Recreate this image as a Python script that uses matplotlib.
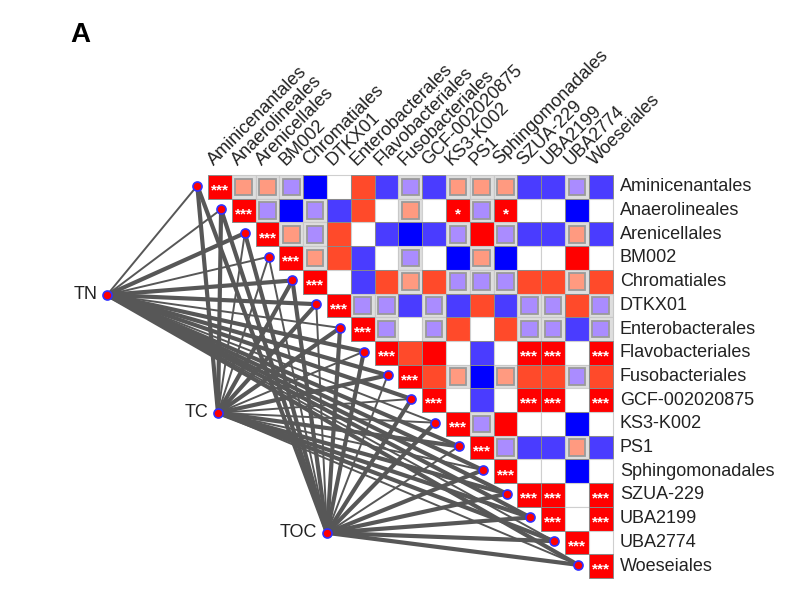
import matplotlib
matplotlib.use("Agg")
import matplotlib.pyplot as plt
from matplotlib.patches import Rectangle
from matplotlib.colors import ListedColormap, BoundaryNorm

plt.rcParams['font.family'] = ['Liberation Sans', 'DejaVu Sans']

taxa = ["Aminicenantales", "Anaerolineales", "Arenicellales", "BM002", "Chromatiales",
        "DTKX01", "Enterobacterales", "Flavobacteriales", "Fusobacteriales",
        "GCF-002020875", "KS3-K002", "PS1", "Sphingomonadales", "SZUA-229",
        "UBA2199", "UBA2774", "Woeseiales"]

# Upper-triangle correlation rows (each row starts at the diagonal)
corr_rows = [
    [1.0, 0.30, 0.30, -0.30, -0.85, 0.00, 0.55, -0.55, -0.30, -0.55, 0.30, 0.30, 0.30, -0.55, -0.55, -0.30, -0.55],
    [1.0, -0.30, -0.85, -0.30, -0.55, 0.55, 0.00, 0.30, 0.00, 0.80, -0.30, 0.80, 0.00, 0.00, -0.85, 0.00],
    [1.0, 0.30, -0.30, 0.55, 0.00, -0.55, -0.85, -0.55, -0.30, 0.80, -0.30, -0.55, -0.55, 0.30, -0.55],
    [1.0, 0.30, 0.55, -0.55, 0.00, -0.30, 0.00, -0.85, 0.30, -0.85, 0.00, 0.00, 0.80, 0.00],
    [1.0, 0.00, -0.55, 0.55, 0.30, 0.55, -0.30, -0.30, -0.30, 0.55, 0.55, 0.30, 0.55],
    [1.0, -0.30, -0.30, -0.55, -0.30, -0.55, 0.55, -0.55, -0.30, -0.30, 0.55, -0.30],
    [1.0, -0.30, 0.00, -0.30, 0.55, 0.00, 0.55, -0.30, -0.30, -0.55, -0.30],
    [1.0, 0.55, 0.80, 0.00, -0.55, 0.00, 0.92, 0.92, 0.00, 0.92],
    [1.0, 0.55, 0.30, -0.85, 0.30, 0.55, 0.55, -0.30, 0.55],
    [1.0, 0.00, -0.55, 0.00, 0.92, 0.92, 0.00, 0.92],
    [1.0, -0.30, 0.80, 0.00, 0.00, -0.85, 0.00],
    [1.0, -0.30, -0.55, -0.55, 0.30, -0.55],
    [1.0, 0.00, 0.00, -0.85, 0.00],
    [1.0, 0.92, 0.00, 0.92],
    [1.0, 0.00, 0.92],
    [1.0, 0.00],
    [1.0],
]

# Significance marks off the diagonal: (row, col, stars)
signif = [(1, 10, "*"), (1, 12, "*"),
          (7, 13, "***"), (7, 14, "***"), (7, 16, "***"),
          (9, 13, "***"), (9, 14, "***"), (9, 16, "***"),
          (13, 14, "***"), (13, 16, "***"), (14, 16, "***")]

env_factors = ["TN", "TC", "TOC"]
# Mantel r of each environmental factor vs. each taxon (line width)
mantel_TN = [0.15, 0.15, 0.45, 0.15, 0.45, 0.45, 0.15, 0.45, 0.45, 0.45, 0.15, 0.45, 0.45, 0.45, 0.45, 0.15, 0.45]
mantel_TC = [0.45, 0.45, 0.15, 0.15, 0.45, 0.45, 0.45, 0.15, 0.45, 0.15, 0.15, 0.45, 0.15, 0.45, 0.45, 0.45, 0.15]
mantel_TOC = [0.45, 0.45, 0.45, 0.15, 0.45, 0.15, 0.45, 0.45, 0.15, 0.45, 0.45, 0.15, 0.45, 0.45, 0.45, 0.45, 0.45]
mantel = [mantel_TN, mantel_TC, mantel_TOC]

# ---- layout (cell units) ----
env_pos = [(-4.24, 5.06), (0.42, 10.04), (5.0, 15.1)]
bounds = [-1.0, -0.7, -0.42, -0.12, 0.12, 0.42, 0.7, 1.01]
colors = ['#0000ff', '#4a3cff', '#aa8cff', '#ffffff', '#ff9a80', '#ff4a2a', '#ff0000']
cmap = ListedColormap(colors)
norm = BoundaryNorm(bounds, cmap.N)

fig = plt.figure(figsize=(7.88, 6.02), dpi=100)
ax = fig.add_axes([0, 0, 1, 1])
ax.set_xlim(-208 / 23.8, (788 - 208) / 23.8)
ax.set_ylim((602 - 175) / 23.7, -175 / 23.7)
ax.axis('off')

n = len(taxa)

# Mantel lines
for k, name in enumerate(env_factors):
    ex, ey = env_pos[k]
    for i in range(n):
        r = mantel[k][i]
        lw = 3.0 if r >= 0.3 else 1.4
        ax.plot([ex, i - 0.45], [ey, i + 0.45], color='#575757', lw=lw,
                solid_capstyle='round', zorder=1)

# Heatmap cells
for i in range(n):
    for k, r in enumerate(corr_rows[i]):
        j = i + k
        col = cmap(norm(r))
        if 0.12 <= abs(r) < 0.42:
            ax.add_patch(Rectangle((j, i), 1, 1, facecolor='#dedede', edgecolor='#c8c8c8', lw=0.8, zorder=2))
            s = 0.7
            ax.add_patch(Rectangle((j + (1 - s) / 2, i + (1 - s) / 2), s, s, facecolor=col,
                                   edgecolor='#9a9a9a', lw=1.3, zorder=3))
        elif abs(r) < 0.12:
            ax.add_patch(Rectangle((j, i), 1, 1, facecolor='#ffffff', edgecolor='#cfcfcf', lw=0.8, zorder=2))
        else:
            ax.add_patch(Rectangle((j, i), 1, 1, facecolor=col, edgecolor='#8a8a8a', lw=0.7, zorder=2))
    ax.text(i + 0.5, i + 0.66, "***", color='white', fontsize=11, fontweight='bold',
            ha='center', va='center', zorder=5)

for (i, j, st) in signif:
    ax.text(j + 0.5, i + 0.66, st, color='white', fontsize=11, fontweight='bold',
            ha='center', va='center', zorder=5)

# Diagonal nodes
for i in range(n):
    ax.plot(i - 0.45, i + 0.45, 'o', ms=6.5, mfc='#ff0000', mec='#3030ff', mew=1.2, zorder=6)

# Env nodes and labels
for k, name in enumerate(env_factors):
    ex, ey = env_pos[k]
    ax.plot(ex, ey, 'o', ms=6.5, mfc='#ff0000', mec='#3030ff', mew=1.2, zorder=6)
    ax.text(ex - 0.4, ey, name, fontsize=13, ha='right', va='center', color='#222222', zorder=6)

# Row labels
for i, t in enumerate(taxa):
    ax.text(n + 0.3, i + 0.5, t, fontsize=13, ha='left', va='center', color='#222222')

# Column labels
for j, t in enumerate(taxa):
    ax.text(j + 0.25, -0.4, t, fontsize=13, ha='left', va='baseline', rotation=45,
            rotation_mode='anchor', color='#222222')

ax.text(-5.38, -5.9, "A", fontsize=20, fontweight='bold', ha='center', va='center', color='black')

fig.savefig("out.png", dpi=100)
